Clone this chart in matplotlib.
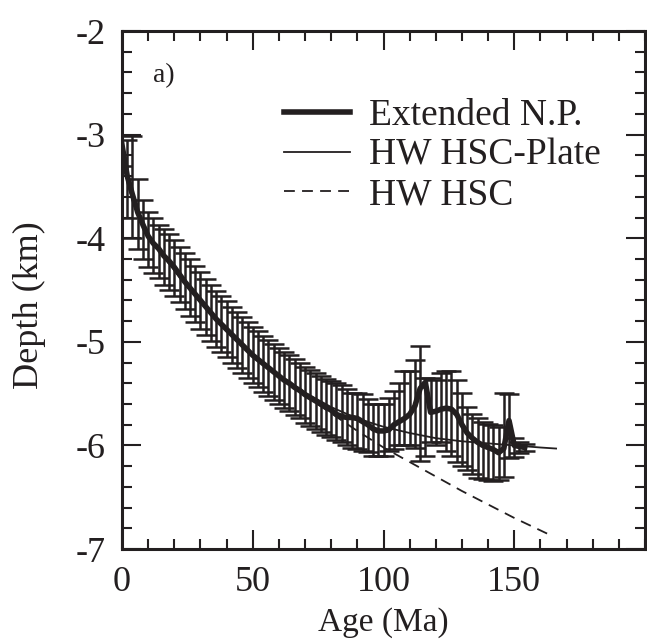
import matplotlib
matplotlib.use("Agg")
import matplotlib.pyplot as plt
from matplotlib.ticker import MultipleLocator

plt.rcParams['font.family'] = ['Liberation Serif', 'DejaVu Serif']
plt.rcParams['axes.unicode_minus'] = False

# binned data: age (Ma), smoothed mean depth and error bar limits (km)
ages = list(range(0, 156, 2))
mean_depth = [-3.10, -3.40, -3.58, -3.75, -3.87, -3.98, -4.05, -4.10, -4.17, -4.22,
              -4.28, -4.35, -4.42, -4.48, -4.54, -4.60, -4.66, -4.72, -4.78, -4.83,
              -4.88, -4.93, -4.98, -5.03, -5.08, -5.13, -5.17, -5.21, -5.25, -5.29,
              -5.33, -5.37, -5.40, -5.44, -5.47, -5.51, -5.54, -5.57, -5.60, -5.63,
              -5.66, -5.70, -5.72, -5.73, -5.73, -5.74, -5.77, -5.80, -5.84, -5.86,
              -5.86, -5.85, -5.80, -5.77, -5.74, -5.70, -5.62, -5.45, -5.39, -5.68,
              -5.67, -5.65, -5.64, -5.65, -5.70, -5.80, -5.88, -5.93, -5.97, -6.00,
              -6.02, -6.04, -6.07, -6.03, -5.76, -6.00, -6.01, -6.02]
bar_top = [-3.00, -3.05, -3.01, -3.43, -3.63, -3.75, -3.80, -3.87, -3.91, -3.96,
           -4.02, -4.08, -4.14, -4.20, -4.27, -4.33, -4.39, -4.45, -4.51, -4.56,
           -4.61, -4.66, -4.71, -4.76, -4.81, -4.86, -4.90, -4.94, -4.98, -5.02,
           -5.06, -5.10, -5.13, -5.17, -5.20, -5.24, -5.27, -5.30, -5.33, -5.36,
           -5.38, -5.40, -5.42, -5.46, -5.49, -5.49, -5.50, -5.55, -5.60, -5.60,
           -5.60, -5.54, -5.47, -5.40, -5.28, -5.28, -5.18, -5.04, -5.35, -5.35,
           -5.37, -5.30, -5.28, -5.28, -5.37, -5.49, -5.63, -5.70, -5.74, -5.77,
           -5.79, -5.80, -5.82, -5.49, -5.50, -5.93, -5.97, -5.99]
bar_bottom = [-3.30, -3.80, -4.00, -4.10, -4.20, -4.28, -4.34, -4.38, -4.45, -4.50,
              -4.56, -4.62, -4.68, -4.75, -4.81, -4.88, -4.93, -4.99, -5.05, -5.10,
              -5.15, -5.20, -5.25, -5.30, -5.35, -5.40, -5.44, -5.48, -5.52, -5.56,
              -5.60, -5.64, -5.67, -5.71, -5.74, -5.78, -5.81, -5.84, -5.87, -5.90,
              -5.92, -5.95, -5.97, -6.00, -6.02, -6.03, -6.05, -6.06, -6.10, -6.10,
              -6.10, -6.05, -6.03, -6.00, -6.00, -6.00, -6.02, -6.15, -6.10, -5.97,
              -6.00, -5.97, -6.05, -6.10, -6.16, -6.20, -6.24, -6.28, -6.31, -6.32,
              -6.33, -6.34, -6.33, -6.30, -6.12, -6.11, -6.07, -6.05]

# model curves
hsc_age = [0, 1, 2, 4, 6, 8, 10, 15, 20, 25, 30, 40, 50, 60, 70, 80, 90,
           100, 110, 120, 130, 140, 150, 160, 165]
hsc_depth = [-3.03, -3.33, -3.45, -3.63, -3.76, -3.88, -3.98, -4.15, -4.31, -4.47,
             -4.62, -4.89, -5.13, -5.34, -5.52, -5.69, -5.86, -6.02, -6.16, -6.30,
             -6.44, -6.57, -6.70, -6.82, -6.88]
plate_age = [0, 1, 2, 4, 6, 8, 10, 15, 20, 25, 30, 40, 50, 60, 70, 80, 90,
             100, 110, 120, 130, 140, 150, 160, 166]
plate_depth = [-3.03, -3.33, -3.45, -3.63, -3.76, -3.88, -3.98, -4.15, -4.31, -4.47,
               -4.62, -4.89, -5.12, -5.32, -5.49, -5.63, -5.74, -5.82, -5.88, -5.93,
               -5.96, -5.98, -6.00, -6.02, -6.03]

bar_mid = [(t + b) / 2 for t, b in zip(bar_top, bar_bottom)]
bar_err = [(t - b) / 2 for t, b in zip(bar_top, bar_bottom)]

ink = '#231f20'

fig = plt.figure(figsize=(6.47, 6.39), dpi=100)
ax = fig.add_axes([0.1886, 0.1408, 0.8083, 0.8106])

ax.errorbar(ages, bar_mid, yerr=bar_err, fmt='none', ecolor=ink,
            elinewidth=1.8, capsize=7, capthick=1.8, zorder=2)
ax.plot(ages, mean_depth, color=ink, lw=4, solid_joinstyle='round',
        label='Extended N.P.', zorder=4)
ax.plot(plate_age, plate_depth, color=ink, lw=1.3,
        label='HW HSC-Plate', zorder=3)
ax.plot(hsc_age, hsc_depth, color=ink, lw=1.3, linestyle=(0, (6, 4)),
        label='HW HSC', zorder=3)

ax.set_xlim(0, 200)
ax.set_ylim(-7, -2)
ax.set_xticks([0, 50, 100, 150])
ax.xaxis.set_minor_locator(MultipleLocator(10))
ax.set_yticks([-7, -6, -5, -4, -3, -2])
ax.yaxis.set_minor_locator(MultipleLocator(0.2))
ax.tick_params(which='both', direction='in', top=True, right=True,
               width=1.5, color=ink, labelsize=26, labelcolor=ink)
ax.tick_params(which='major', length=14, pad=12)
ax.tick_params(which='minor', length=7)
for s in ax.spines.values():
    s.set_linewidth(2.2)
    s.set_color(ink)

ax.set_xlabel('Age (Ma)', fontsize=24, color=ink, labelpad=6)
ax.set_ylabel('Depth (km)', fontsize=26, color=ink)
ax.yaxis.set_label_coords(-0.145, 0.47)

ax.text(12, -2.43, 'a)', fontsize=20, color=ink, va='center')

leg = ax.legend(loc='upper left', bbox_to_anchor=(0.31, 0.869), frameon=False,
                fontsize=27, handlelength=1.75, handletextpad=0.5,
                labelspacing=0.13, borderpad=0, borderaxespad=0)
for t in leg.get_texts():
    t.set_color(ink)

fig.savefig('out.png', dpi=100)
